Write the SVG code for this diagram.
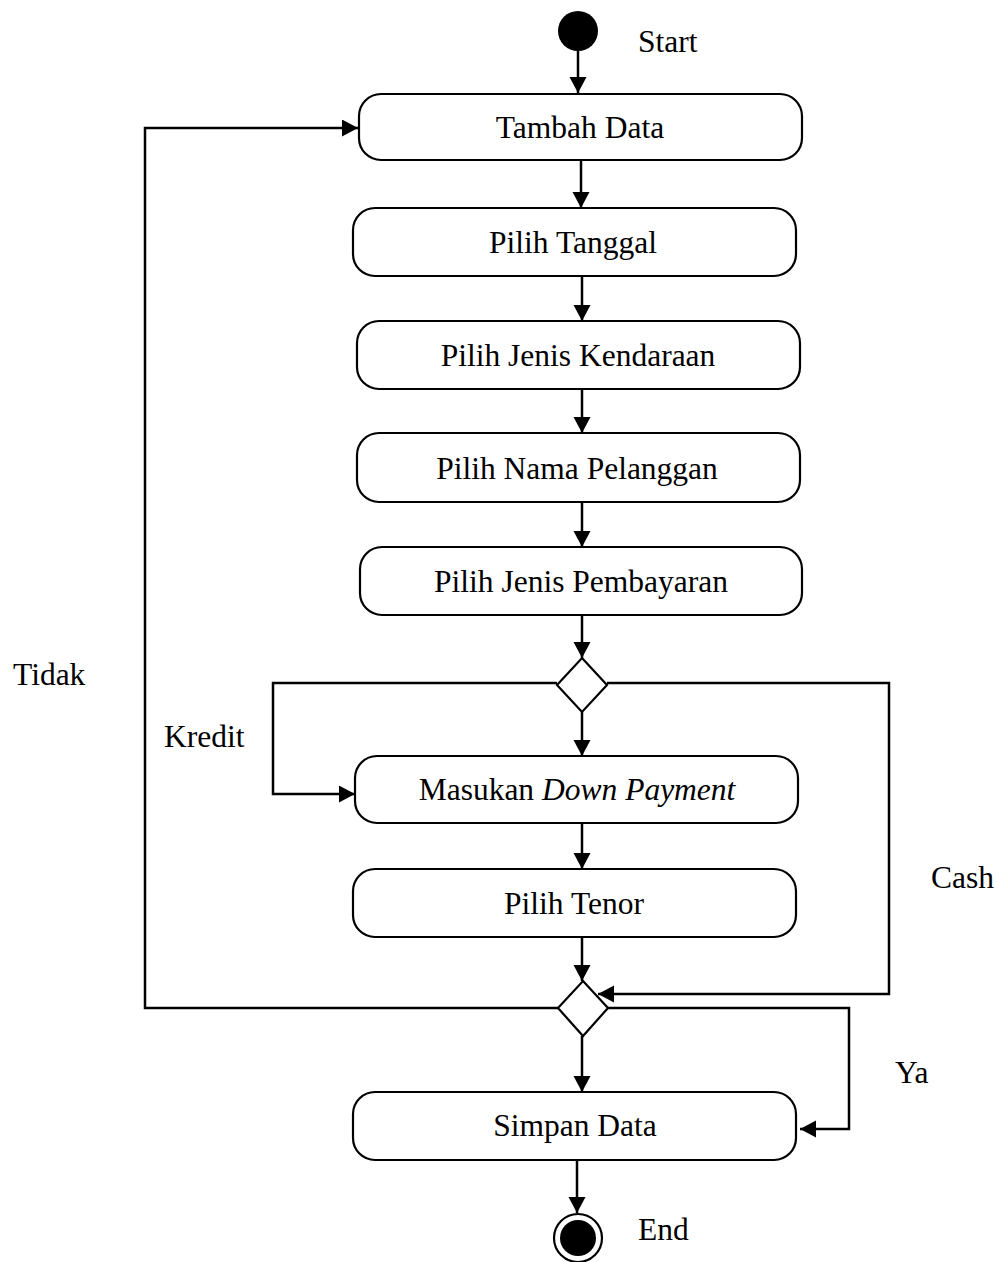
<svg xmlns="http://www.w3.org/2000/svg" width="998" height="1262" viewBox="0 0 998 1262">
  <style>
    .box { fill: #fff; stroke: #000; stroke-width: 2.2; }
    .dec { fill: #fff; stroke: #000; stroke-width: 2.2; }
    .lbl { font-family: "Liberation Serif", "Times New Roman", serif; font-size: 31.5px; fill: #000; }
    .ctr { text-anchor: middle; }
    .edge { fill: none; stroke: #000; stroke-width: 2.5; }
  </style>
  <defs>
    <marker id="arrow" markerUnits="userSpaceOnUse" markerWidth="18" markerHeight="18" refX="16" refY="8.5" orient="auto">
      <path d="M0,0 L16,8.5 L0,17 z" fill="#000"/>
    </marker>
  </defs>
  <rect width="998" height="1262" fill="#fff"/>

  <!-- connectors -->
  <g id="connectors">
    <line class="edge" x1="578" y1="50" x2="578" y2="93" marker-end="url(#arrow)"/>
    <line class="edge" x1="581" y1="161" x2="581" y2="208" marker-end="url(#arrow)"/>
    <line class="edge" x1="582" y1="276" x2="582" y2="321" marker-end="url(#arrow)"/>
    <line class="edge" x1="582" y1="389" x2="582" y2="433" marker-end="url(#arrow)"/>
    <line class="edge" x1="582" y1="502" x2="582" y2="547" marker-end="url(#arrow)"/>
    <line class="edge" x1="582" y1="615" x2="582" y2="658" marker-end="url(#arrow)"/>
    <line class="edge" x1="582" y1="712" x2="582" y2="756" marker-end="url(#arrow)"/>
    <!-- Kredit branch -->
    <polyline class="edge" points="557,683 273,683 273,794 355,794" marker-end="url(#arrow)"/>
    <line class="edge" x1="582" y1="823" x2="582" y2="869" marker-end="url(#arrow)"/>
    <line class="edge" x1="582" y1="937" x2="582" y2="981" marker-end="url(#arrow)"/>
    <!-- Cash branch -->
    <polyline class="edge" points="607,683 889,683 889,994 598,994" marker-end="url(#arrow)"/>
    <!-- Tidak loop back -->
    <polyline class="edge" points="558,1008 145,1008 145,128 358,128" marker-end="url(#arrow)"/>
    <!-- Ya branch -->
    <polyline class="edge" points="608,1008 849,1008 849,1129 800,1129" marker-end="url(#arrow)"/>
    <line class="edge" x1="582" y1="1036" x2="582" y2="1092" marker-end="url(#arrow)"/>
    <line class="edge" x1="577" y1="1161" x2="577" y2="1213" marker-end="url(#arrow)"/>
  </g>

  <g id="start">
    <circle cx="578" cy="31" r="20" fill="#000"/>
    <text class="lbl" x="638" y="52">Start</text>
  </g>

  <g id="tambah-data">
    <rect class="box" x="359" y="94" width="443" height="66" rx="22"/>
    <text class="lbl ctr" x="580" y="138">Tambah Data</text>
  </g>

  <g id="pilih-tanggal">
    <rect class="box" x="353" y="208" width="443" height="68" rx="22"/>
    <text class="lbl ctr" x="573" y="253">Pilih Tanggal</text>
  </g>

  <g id="pilih-jenis-kendaraan">
    <rect class="box" x="357" y="321" width="443" height="68" rx="22"/>
    <text class="lbl ctr" x="578" y="366">Pilih Jenis Kendaraan</text>
  </g>

  <g id="pilih-nama-pelanggan">
    <rect class="box" x="357" y="433" width="443" height="69" rx="22"/>
    <text class="lbl ctr" x="577" y="479">Pilih Nama Pelanggan</text>
  </g>

  <g id="pilih-jenis-pembayaran">
    <rect class="box" x="360" y="547" width="442" height="68" rx="22"/>
    <text class="lbl ctr" x="581" y="592">Pilih Jenis Pembayaran</text>
  </g>

  <g id="decision-pembayaran">
    <polygon class="dec" points="582,658 607,685 582,712 557,685"/>
  </g>

  <g id="masukan-dp">
    <rect class="box" x="355" y="756" width="443" height="67" rx="22"/>
    <text class="lbl ctr" x="577" y="800">Masukan <tspan font-style="italic">Down Payment</tspan></text>
  </g>

  <g id="pilih-tenor">
    <rect class="box" x="353" y="869" width="443" height="68" rx="22"/>
    <text class="lbl ctr" x="574" y="914">Pilih Tenor</text>
  </g>

  <g id="decision-simpan">
    <polygon class="dec" points="583,981 608,1008 583,1036 558,1008"/>
  </g>

  <g id="simpan-data">
    <rect class="box" x="353" y="1092" width="443" height="68" rx="22"/>
    <text class="lbl ctr" x="575" y="1136">Simpan Data</text>
  </g>

  <g id="end">
    <circle cx="578" cy="1238" r="24" fill="#fff" stroke="#000" stroke-width="2.2"/>
    <circle cx="578" cy="1238" r="18" fill="#000"/>
    <text class="lbl" x="638" y="1240">End</text>
  </g>

  <g id="guard-labels">
    <text class="lbl" x="13" y="685">Tidak</text>
    <text class="lbl" x="164" y="747">Kredit</text>
    <text class="lbl" x="931" y="888">Cash</text>
    <text class="lbl" x="895" y="1083">Ya</text>
  </g>
</svg>
